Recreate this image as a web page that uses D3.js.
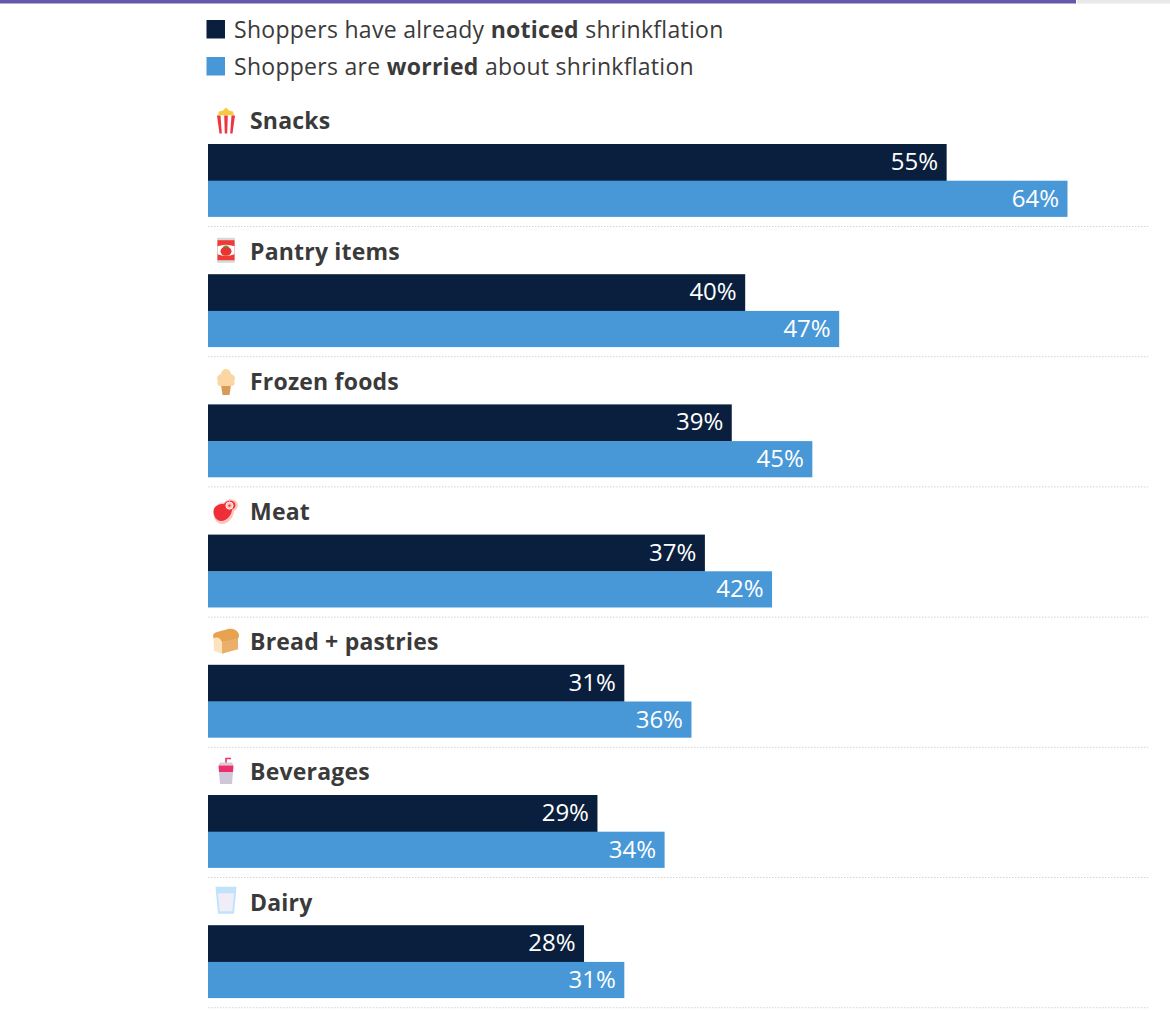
<!DOCTYPE html>
<html><head><meta charset="utf-8">
<script src="https://cdnjs.cloudflare.com/ajax/libs/d3/7.8.5/d3.min.js"></script>
<style>html,body{margin:0;padding:0;background:#fff}svg{display:block}text{font-family:"Open Sans",Lato,sans-serif}</style>
</head><body><div id="c"></div>
<script>
const categories=["Snacks","Pantry items","Frozen foods","Meat","Bread + pastries","Beverages","Dairy"];
const noticed=[55,40,39,37,31,29,28];
const worried=[64,47,45,42,36,34,31];
const iconKeys=["popcorn","can","cone","meat","bread","cup","glass"];
const legendItems=[
 {parts:[["Shoppers have already ",400],["noticed",700],[" shrinkflation",400]],color:"#0a1f3d"},
 {parts:[["Shoppers are ",400],["worried",700],[" about shrinkflation",400]],color:"#4898d8"}];
const W=1170,H=1011;
const svg=d3.select("#c").append("svg").attr("width",W).attr("height",H);
svg.append("rect").attr("x",0).attr("y",0).attr("width",1076).attr("height",3.5).attr("fill","#6459a8");
svg.append("rect").attr("x",1077).attr("y",0).attr("width",93).attr("height",3.5).attr("fill","#e8e8e8");
const x=d3.scaleLinear().domain([0,64]).range([208,1067.5]);
const rowTop=d3.scaleLinear().domain([0,7]).range([144,1055.4]);
const TXT="#3b3a3a";
legendItems.forEach((l,i)=>{
 const y=19.5+i*37;
 svg.append("rect").attr("x",206.5).attr("y",y+.5).attr("width",18.5).attr("height",18.5).attr("fill",l.color);
 const t=svg.append("text").attr("x",234).attr("y",y+18).attr("font-size",23).attr("letter-spacing",.28).attr("fill",TXT);
 l.parts.forEach(p=>t.append("tspan").attr("font-weight",p[1]).style("white-space","pre").text(p[0]));
});
const icons={
 popcorn(g){
  g.append("path").attr("d","M-8,-5 L-7,-9 L-3,-10 L0,-13 L3,-10 L7,-9 L8,-5Z").attr("fill","#f9c93c");
  g.append("path").attr("d","M-9,-5 H9 L6.5,13 H-6.5Z").attr("fill","#fff");
  ["M-9,-5 H-5.5 L-4.2,13 H-6.5Z","M-1.8,-5 H1.8 L1.2,13 H-1.2Z","M5.5,-5 H9 L6.5,13 H4.2Z"].forEach(d=>g.append("path").attr("d",d).attr("fill","#ef3340"));
 },
 can(g){
  g.append("rect").attr("x",-9).attr("y",-12.5).attr("width",18).attr("height",25).attr("rx",1).attr("fill","#d8d8d8");
  g.append("rect").attr("x",-8.5).attr("y",-10).attr("width",17).attr("height",20).attr("fill","#ef3b36");
  g.append("path").attr("d","M-8.5,-4 Q0,-7 8.5,-4 V4 Q0,7 -8.5,4Z").attr("fill","#fff");
  g.append("ellipse").attr("rx",5.5).attr("ry",4.6).attr("cy",1).attr("fill","#e8352e");
  g.append("path").attr("d","M-3,-3.5 Q0,-6.5 3,-3.5 Q0,-2.5 -3,-3.5Z").attr("fill","#3fae49");
 },
 cone(g){
  g.append("path").attr("d","M-5,3 H5 L3.5,13 H-3.5Z").attr("fill","#d99a55");
  g.append("path").attr("d","M0,-13 C4,-13 5,-9 5,-8 C9,-7 10,-3 8,-1 C10,2 7,5 4,4 H-4 C-7,5 -10,2 -8,-1 C-10,-3 -9,-7 -5,-8 C-5,-9 -4,-13 0,-13Z").attr("fill","#fbd6a2");
 },
 meat(g){
  g.append("path").attr("d","M-12.5,2 C-13,-6 -6,-9 -2,-9 C0,-12.5 7,-14 10.5,-10 C13.5,-6 11,-2 8,-0.5 C8,5 3,12.5 -4,12.5 C-9,12.5 -12.5,7 -12.5,2Z").attr("fill","#fbc4bd");
  g.append("path").attr("d","M-12.5,0 C-12.5,-6 -6,-8 -2,-7.5 C0,-11 6,-12 8.5,-9 C10.5,-6 9,-3 6,-2 C6,3 1,9.5 -5,9.5 C-9,9.5 -12.5,5 -12.5,0Z").attr("fill","#ee2f37");
  g.append("circle").attr("cx",3.5).attr("cy",-6).attr("r",3.6).attr("fill","#fbc4bd").attr("stroke","#fff").attr("stroke-width",.8);
  g.append("circle").attr("cx",3.5).attr("cy",-6).attr("r",1.2).attr("fill","#ee2f37");
 },
 bread(g){
  g.append("path").attr("d","M-4,12.5 L12,8 V-4 L-4,1Z").attr("fill","#eab06b");
  g.append("path").attr("d","M-13,-5 C-13,-8 -10,-9 -8,-9.5 L3,-12.5 C8,-13.5 13,-10 13,-6 C13,-4 12,-3 12,-3 L-4,1 L-12,-2Z").attr("fill","#e7a24f");
  g.append("path").attr("d","M-12.5,-3 C-9,-5 -5,-3 -4,1 V12.5 L-11,10 Q-12,10 -12,9Z").attr("fill","#fbe3bd");
 },
 cup(g){
  g.append("path").attr("d","M0,-8 V-12.5 H5").attr("fill","none").attr("stroke","#e8336e").attr("stroke-width",1.6);
  g.append("path").attr("d","M-6,-8.5 H6 L7.5,-5.5 H-7.5Z").attr("fill","#d6cddc");
  g.append("path").attr("d","M-7.5,-5.5 H7.5 L7,1 H-7Z").attr("fill","#ee2f6e");
  g.append("path").attr("d","M-7,1 H7 L6,13 H-6Z").attr("fill","#cfc6d8");
 },
 glass(g){
  g.append("path").attr("d","M-10.5,-13.5 H10.5 L8,13.5 H-8Z").attr("fill","#bfe3fb");
  g.append("path").attr("d","M-8,-7 H8 L6.3,11 H-6.3Z").attr("fill","#f1edf8");
 }
};
const iconDy=[-23.5,-24,-22.5,-23,-23.5,-24,-25];
const rows=svg.selectAll("g.row").data(categories.map((c,i)=>({c,i,n:noticed[i],w:worried[i],k:iconKeys[i]}))).join("g").attr("class","row");
rows.each(function(d){
 const g=d3.select(this),top=rowTop(d.i);
 icons[d.k](g.append("g").attr("transform",`translate(226,${top+iconDy[d.i]})`));
 g.append("text").attr("x",250).attr("y",top-14.6).attr("font-size",23).attr("letter-spacing",.2).attr("font-weight",700).attr("fill",TXT).text(d.c);
 [[d.n,"#0a1f3d",0,37],[d.w,"#4898d8",36.7,36.2]].forEach(b=>{
  g.append("rect").attr("x",x(0)).attr("y",top+b[2]).attr("width",x(b[0])-x(0)).attr("height",b[3]).attr("fill",b[1]);
  g.append("text").attr("x",x(b[0])-8.5).attr("y",top+b[2]+26).attr("text-anchor","end").attr("font-size",24).attr("fill","#fff").text(b[0]+"%");
 });
 g.append("line").attr("x1",208).attr("x2",1148).attr("y1",top+82.5).attr("y2",top+82.5).attr("stroke","#d4d4d4").attr("stroke-width",1).attr("stroke-dasharray","1.5 1.5");
});
</script></body></html>
